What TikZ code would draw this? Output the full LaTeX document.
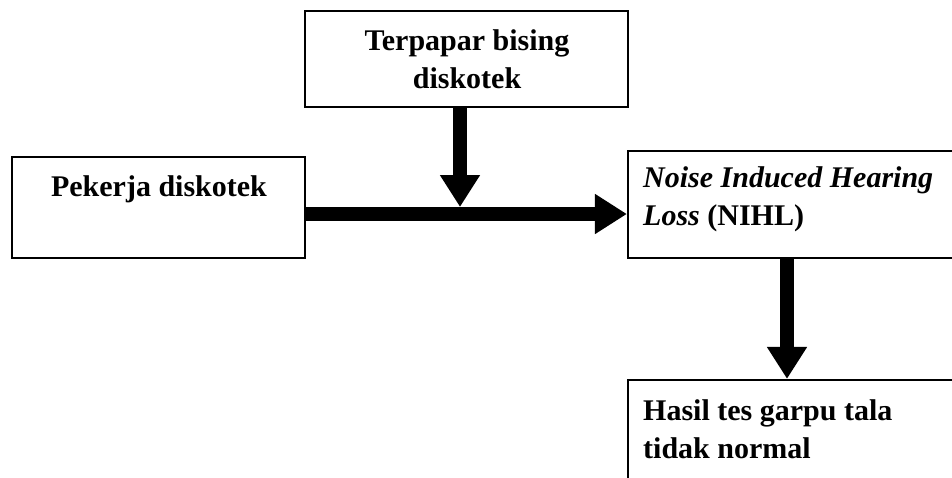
\documentclass[tikz,border=0pt]{standalone}
\usepackage{fontspec}
\setmainfont{Liberation Serif}
\usetikzlibrary{arrows.meta}
\begin{document}
\begin{tikzpicture}[x=1pt,y=-1pt,
  box/.style={draw, line width=2.2pt, inner sep=0pt},
  lbl/.style={font=\fontsize{30}{38}\selectfont\bfseries, inner sep=0pt},
  bigarrow/.style={line width=14pt, -{Triangle[length=32pt,width=38pt]}}]
\useasboundingbox (0,0) rectangle (952,477);
\clip (0,0) rectangle (952,477);
% boxes
\node[box, minimum width=323pt, minimum height=96pt] (top) at (466.5,59) {};
\node[box, minimum width=293pt, minimum height=101pt] (pek) at (158.5,207.5) {};
\node[box, minimum width=372pt, minimum height=107pt] (nihl) at (814,204.5) {};
\node[box, minimum width=372pt, minimum height=140pt] (hasil) at (814,450) {};
% texts (base anchor = baseline of the last line)
\node[lbl, align=center, anchor=base] (ttop) at (467,88) {Terpapar bising\\diskotek};
\node[lbl, anchor=base] (tpek) at (159,196) {Pekerja diskotek};
\node[lbl, align=left, anchor=base west] (tnihl) at (643,225) {\textit{Noise Induced Hearing}\\\textit{Loss} (NIHL)};
\node[lbl, align=left, anchor=base west] (thasil) at (643,458) {Hasil tes garpu tala\\tidak normal};
% connectors
\coordinate (meet) at (460,207);
\draw[bigarrow] (pek.east |- 0,214) -- (nihl.west |- 0,214);
\draw[bigarrow] (top.south -| meet) -- (meet);
\draw[bigarrow] (nihl.south -| 787,0) -- (hasil.north -| 787,0);
\end{tikzpicture}
\end{document}
